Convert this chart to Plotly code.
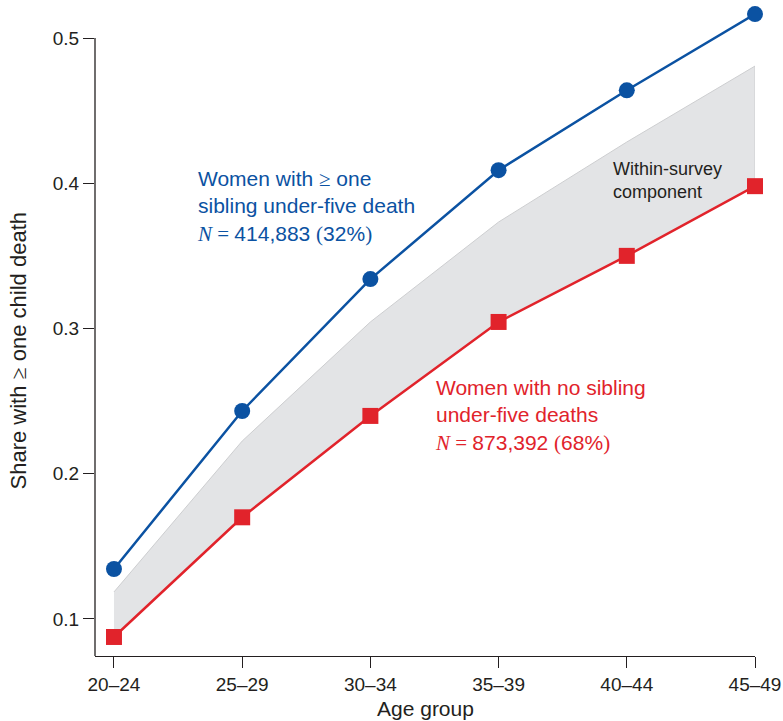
import plotly.graph_objects as go

age_groups = ["20–24", "25–29", "30–34", "35–39", "40–44", "45–49"]
sibling_death = [0.1344, 0.2432, 0.3340, 0.4090, 0.4640, 0.5165]
no_sibling_death = [0.0876, 0.1700, 0.2398, 0.3045, 0.3500, 0.3980]
band_upper = [0.1186, 0.2225, 0.3045, 0.3733, 0.4284, 0.4807]
y_ticks = [0.1, 0.2, 0.3, 0.4, 0.5]

BLUE = "#0B52A2"
RED = "#E1232B"
INK = "#231F20"
SANS = "Liberation Sans, Arial, sans-serif"
SERIF = "Liberation Serif"

xi = list(range(len(age_groups)))

fig = go.Figure()

# Within-survey component band (between red line and upper bound)
fig.add_trace(go.Scatter(
    x=xi + xi[::-1],
    y=band_upper + no_sibling_death[::-1],
    mode="lines",
    fill="toself",
    fillcolor="#E3E4E6",
    line=dict(color="#CDCED0", width=1),
    hoverinfo="skip",
    showlegend=False,
))

fig.add_trace(go.Scatter(
    x=xi, y=no_sibling_death,
    mode="lines+markers",
    line=dict(color=RED, width=2.5),
    marker=dict(symbol="square", size=16, color=RED, line=dict(width=0)),
    cliponaxis=False,
    showlegend=False,
))

fig.add_trace(go.Scatter(
    x=xi, y=sibling_death,
    mode="lines+markers",
    line=dict(color=BLUE, width=2.5),
    marker=dict(symbol="circle", size=16, color=BLUE, line=dict(width=0)),
    cliponaxis=False,
    showlegend=False,
))

y_min, y_max = 0.0745, 0.5248

fig.update_layout(
    width=783, height=721,
    margin=dict(l=95, r=26, t=2, b=65),
    paper_bgcolor="white",
    plot_bgcolor="white",
    font=dict(family=SANS, color=INK, size=19),
    hovermode=False,
    showlegend=False,
    xaxis=dict(
        range=[-0.148, 5],
        tickvals=xi,
        ticktext=age_groups,
        showgrid=False, zeroline=False,
        showline=True, linecolor=INK, linewidth=1.3,
        ticks="outside", ticklen=11, tickwidth=1.3, tickcolor=INK,
        tickfont=dict(size=19, color=INK, family=SANS),
        ticklabeloverflow="allow",
    ),
    yaxis=dict(
        range=[y_min, y_max],
        tickvals=y_ticks,
        ticktext=[f"{v:.1f}" for v in y_ticks],
        showgrid=False, zeroline=False,
        showline=False,
        ticks="outside", ticklen=11, tickwidth=1.3, tickcolor=INK,
        tickfont=dict(size=19, color=INK, family=SANS),
    ),
    shapes=[dict(
        type="line", xref="paper", yref="y",
        x0=0, x1=0, y0=y_min, y1=0.5,
        line=dict(color=INK, width=1.3),
    )],
)

def serif(t):
    return f'<span style="font-family:{SERIF}">{t}</span>'

annotations = [
    # axis titles
    dict(text="Age group", xref="paper", yref="paper", x=0.5, y=0,
         xanchor="center", yanchor="middle", yshift=-52, showarrow=False,
         font=dict(size=21, color=INK, family=SANS)),
    dict(text="Share with " + serif("≥") + " one child death",
         xref="paper", yref="y", x=0, y=0.2845, xshift=-77.5,
         xanchor="center", yanchor="middle", textangle=-90, showarrow=False,
         font=dict(size=22, color=INK, family=SANS)),
    # series labels
    dict(text="Women with " + serif("≥") + " one<br>sibling under-five death<br>"
              + serif("<i>N</i> = ") + "414,883 " + serif("(") + "32%" + serif(")"),
         xref="x", yref="y", x=0.653, y=0.3843, xshift=-3, xanchor="left", yanchor="middle",
         align="left", showarrow=False,
         font=dict(size=21, color=BLUE, family=SANS)),
    dict(text="Women with no sibling<br>under-five deaths<br>"
              + serif("<i>N</i> = ") + "873,392 " + serif("(") + "68%" + serif(")"),
         xref="x", yref="y", x=2.512, y=0.2398, xshift=-3, xanchor="left", yanchor="middle",
         align="left", showarrow=False,
         font=dict(size=21, color=RED, family=SANS)),
    dict(text="Within-survey<br>component",
         xref="x", yref="y", x=3.896, y=0.4016, xshift=-2, xanchor="left", yanchor="middle",
         align="left", showarrow=False,
         font=dict(size=18, color=INK, family=SANS)),
]
fig.update_layout(annotations=annotations)

fig.write_html("out.html", config={"displayModeBar": False},
               post_script="document.body.style.margin='0';")
